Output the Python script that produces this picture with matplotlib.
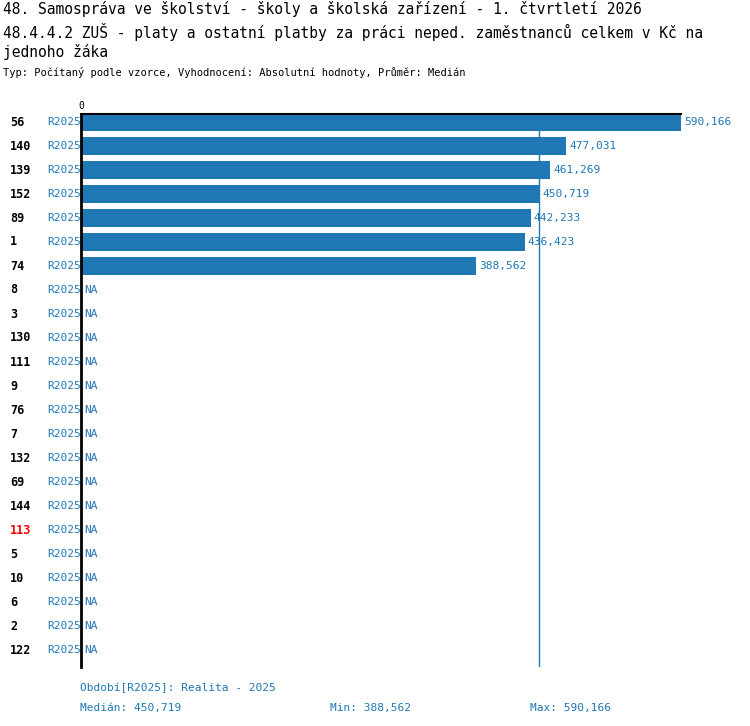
import matplotlib.pyplot as plt
import numpy as np

ids = ["56", "140", "139", "152", "89", "1", "74", "8", "3", "130", "111", "9", "76",
       "7", "132", "69", "144", "113", "5", "10", "6", "2", "122"]
values = [590166, 477031, 461269, 450719, 442233, 436423, 388562] + [np.nan] * 16
highlight = "113"
median = 450719
vmin, vmax = 388562, 590166

W, H = 750, 726
blue = "#1f77b4"
fig = plt.figure(figsize=(W / 100, H / 100), dpi=100)
plt.rcParams['font.family'] = ['DejaVu Sans Mono']

def px(x, y):
    return x / W, 1 - y / H

# axes from x=81..681 px, y=114..667 px
ax = fig.add_axes([81 / W, 1 - 667 / H, 600 / W, (667 - 114) / H])
n = len(ids)
y = np.arange(n)
ax.set_xlim(0, vmax)
ax.set_ylim((667 - 122) / 24, -8 / 24)
for s in ["right", "bottom"]:
    ax.spines[s].set_visible(False)
ax.spines["left"].set_linewidth(2)
ax.spines["top"].set_linewidth(1.5)
ax.set_xticks([])
ax.set_yticks([])
ax.text(0, -0.45, "0", ha="center", va="bottom", fontsize=7)

for i, v in enumerate(values):
    if np.isnan(v):
        ax.text(3000, i, "NA", va="center", ha="left", fontsize=8, color=blue)
    else:
        ax.barh(i, v, height=0.72, color=blue)
        ax.text(v + 3000, i, f"{v:,}", va="center", ha="left", fontsize=8, color=blue)
ax.axvline(median, color=blue, lw=1)

for i, name in enumerate(ids):
    yy = 122 + 24 * i
    fig.text(*px(10, yy), name, va="center", ha="left", fontsize=8.5, fontweight="bold",
             color="red" if name == highlight else "black")
    fig.text(*px(47, yy), "R2025", va="center", ha="left", fontsize=8, color=blue)

fig.text(*px(3, 9), "48. Samospráva ve školství - školy a školská zařízení - 1. čtvrtletí 2026",
         va="center", fontsize=10.5)
fig.text(*px(3, 32), "48.4.4.2 ZUŠ - platy a ostatní platby za práci neped. zaměstnanců celkem v Kč na",
         va="center", fontsize=10.5)
fig.text(*px(3, 52), "jednoho žáka", va="center", fontsize=10.5)
fig.text(*px(3, 73), "Typ: Počítaný podle vzorce, Vyhodnocení: Absolutní hodnoty, Průměr: Medián",
         va="center", fontsize=7.5)

fig.text(*px(80, 688), "Období[R2025]: Realita - 2025", va="center", fontsize=8, color=blue)
fig.text(*px(80, 708), f"Medián: {median:,}", va="center", fontsize=8, color=blue)
fig.text(*px(330, 708), f"Min: {vmin:,}", va="center", fontsize=8, color=blue)
fig.text(*px(530, 708), f"Max: {vmax:,}", va="center", fontsize=8, color=blue)

fig.savefig("out.png", dpi=100)
